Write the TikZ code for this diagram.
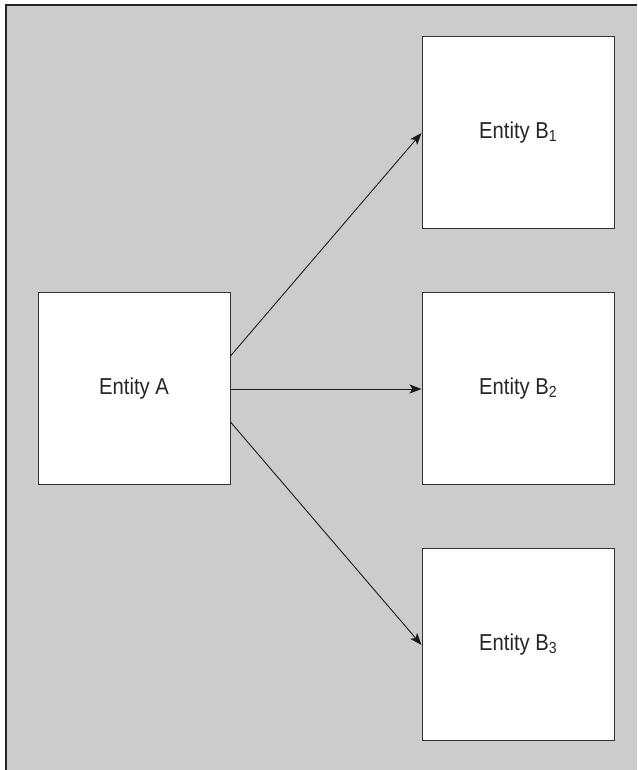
\documentclass[tikz,border=0pt]{standalone}
\usepackage{fontspec}
\setmainfont{Liberation Sans}[FakeStretch=0.88]
\usetikzlibrary{arrows.meta}
\definecolor{bggray}{HTML}{CCCCCC}
\definecolor{edge}{HTML}{333333}
\newcommand{\entsub}[1]{\raisebox{-3pt}{\fontsize{16}{16}\selectfont #1}}
\begin{document}
\begin{tikzpicture}[x=1pt,y=1pt,
  entbox/.style={draw=edge, fill=white, line width=1pt, minimum width=192pt, minimum height=192pt, inner sep=0pt, font=\fontsize{23}{27}\selectfont, text=black!85},
  conn/.style={draw=black!90, line width=0.9pt, -{Stealth[length=12pt,width=9pt,inset=3pt]}}]
\useasboundingbox (0,0) rectangle (637,770);
\fill[bggray] (6,0) rectangle (637,765);
\draw[black!85, line width=1.6pt] (6,0) -- (6,765) -- (637,765);
\node[entbox] (A) at (134,381) {Entity A};
\node[entbox] (B1) at (518,637) {Entity B\entsub{1}};
\node[entbox] (B2) at (518,381) {Entity B\entsub{2}};
\node[entbox] (B3) at (518,125) {Entity B\entsub{3}};
\draw[conn] ([yshift=33pt]A.east) -- (B1.west);
\draw[conn] (A.east) -- (B2.west);
\draw[conn] ([yshift=-33pt]A.east) -- (B3.west);
\end{tikzpicture}
\end{document}
